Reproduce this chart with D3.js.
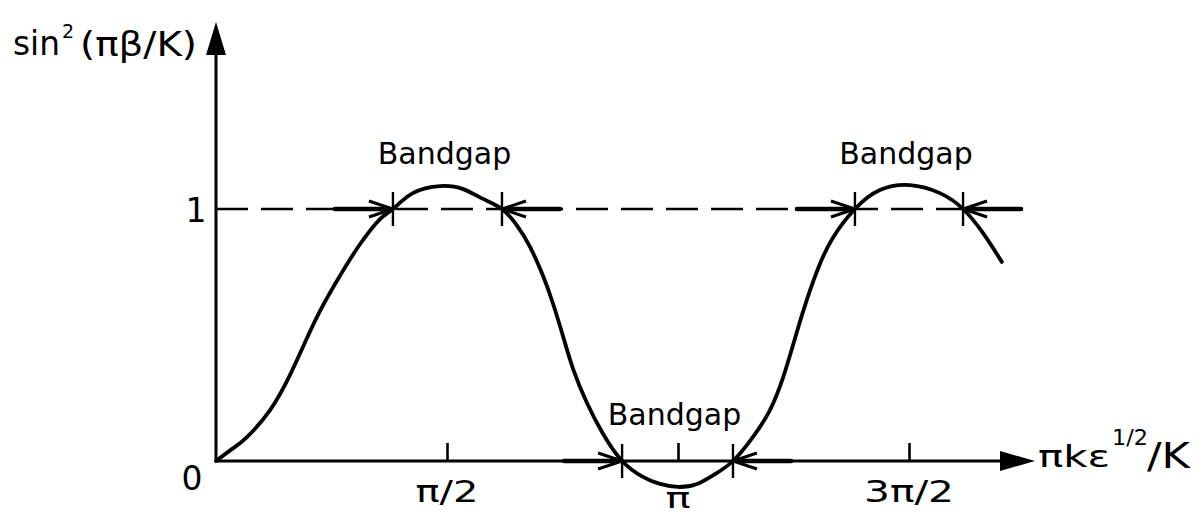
<!DOCTYPE html>
<html>
<head>
<meta charset="utf-8">
<script src="https://cdn.jsdelivr.net/npm/d3@7"></script>
<style>
  html, body { margin: 0; padding: 0; background: #fff; }
  svg { display: block; }
  text { font-family: "DejaVu Sans", sans-serif; fill: #000; }
</style>
</head>
<body>
<svg id="chart" width="1202" height="514"></svg>
<script>
// Abscissa in multiples of π, ordinate sin²(πβ/K)
const curveX = [0, 0.035, 0.067, 0.117, 0.160, 0.193, 0.225, 0.268, 0.312, 0.355, 0.383, 0.426,
  0.485, 0.535, 0.578, 0.619, 0.652, 0.680, 0.708, 0.729, 0.751, 0.773, 0.803, 0.838, 0.879,
  0.924, 0.961, 1.000, 1.041, 1.080, 1.119, 1.162, 1.199, 1.227, 1.249, 1.271, 1.301, 1.335,
  1.383, 1.437, 1.502, 1.567, 1.617, 1.660, 1.701];
const curveY = [0, 0.048, 0.095, 0.202, 0.341, 0.472, 0.595, 0.734, 0.861, 0.960, 1.0, 1.063,
  1.091, 1.079, 1.040, 1.0, 0.933, 0.849, 0.734, 0.627, 0.496, 0.365, 0.230, 0.107, 0.0,
  -0.063, -0.091, -0.103, -0.091, -0.052, 0.0, 0.095, 0.202, 0.329, 0.460, 0.595, 0.754, 0.885,
  1.0, 1.075, 1.095, 1.063, 1.0, 0.905, 0.790];

// Band gaps: start and end of each gap and the level it sits on
const gapStarts = [0.383, 0.879, 1.383];
const gapEnds = [0.619, 1.119, 1.617];
const gapLevels = [1, 0, 1];
const gapLabel = "Bandgap";

const xTickValues = [0.5, 1, 1.5];
const xTickLabels = ["π/2", "π", "3π/2"];
const yTickValues = [0, 1];
const yTickLabels = ["0", "1"];

const svg = d3.select("#chart");
const x = d3.scaleLinear().domain([0, 1.5]).range([216, 909]);
const y = d3.scaleLinear().domain([0, 1]).range([461, 209]);

const x0 = x(0), y0 = y(0);
const xEnd = 1035, yTop = 22;

// dashed reference line at 1
svg.append("line")
  .attr("x1", x0).attr("x2", 1022)
  .attr("y1", y(1)).attr("y2", y(1))
  .attr("stroke", "#000").attr("stroke-width", 2.4)
  .attr("stroke-dasharray", "32,13");

// axes
svg.append("line").attr("x1", x0).attr("x2", xEnd - 30).attr("y1", y0).attr("y2", y0)
  .attr("stroke", "#000").attr("stroke-width", 3);
svg.append("line").attr("x1", x0).attr("x2", x0).attr("y1", y0 + 1).attr("y2", yTop + 28)
  .attr("stroke", "#000").attr("stroke-width", 3);
svg.append("path")
  .attr("d", `M${xEnd},${y0} L${xEnd - 35},${y0 - 10} L${xEnd - 35},${y0 + 10} Z`)
  .attr("fill", "#000");
svg.append("path")
  .attr("d", `M${x0},${yTop} L${x0 - 10},${yTop + 33} L${x0 + 10},${yTop + 33} Z`)
  .attr("fill", "#000");

// x ticks (pointing up)
const xAxis = d3.axisBottom(x).tickValues(xTickValues).tickSize(-18).tickFormat("");
const gx = svg.append("g").attr("transform", `translate(0,${y0})`).call(xAxis);
gx.select(".domain").remove();
gx.selectAll(".tick line").attr("stroke", "#000").attr("stroke-width", 2.6);

// x tick labels
const tickLabelWidths = [63, 25, 90];
const tickLabelBase = [502, 508, 502];
const tickLabelSize = [31, 28, 31];
svg.selectAll("text.xtick").data(xTickValues).join("text")
  .attr("class", "xtick")
  .attr("x", (d, i) => x(d) - tickLabelWidths[i] / 2)
  .attr("y", (d, i) => tickLabelBase[i])
  .attr("font-size", (d, i) => tickLabelSize[i])
  .attr("textLength", (d, i) => tickLabelWidths[i])
  .attr("lengthAdjust", "spacingAndGlyphs")
  .text((d, i) => xTickLabels[i]);

// y tick labels
svg.selectAll("text.ytick").data(yTickValues).join("text")
  .attr("class", "ytick")
  .attr("x", d => d === 0 ? 192 : 196)
  .attr("y", d => d === 0 ? y(d) + 29 : y(d) + 13)
  .attr("text-anchor", "middle")
  .attr("font-size", 33)
  .text((d, i) => yTickLabels[i]);

// curve
const line = d3.line()
  .x((d, i) => x(curveX[i]))
  .y(d => y(d))
  .curve(d3.curveNatural);
svg.append("path")
  .datum(curveY)
  .attr("d", line)
  .attr("fill", "none")
  .attr("stroke", "#000")
  .attr("stroke-width", 3.8)
  .attr("stroke-linecap", "round");

// band gap markers: a short vertical bar at each edge and an arrow pointing at it
function edgeMarker(xv, level, dir) {
  const ex = x(xv), ey = y(level);
  const g = svg.append("g").attr("stroke", "#000").attr("fill", "none");
  g.append("line").attr("x1", ex).attr("x2", ex).attr("y1", ey - 17).attr("y2", ey + 17)
    .attr("stroke-width", 2.4);
  g.append("line").attr("x1", ex - dir * 58).attr("x2", ex - dir * 4).attr("y1", ey).attr("y2", ey)
    .attr("stroke-width", 4.5).attr("stroke-linecap", "round");
  g.append("path")
    .attr("d", `M${ex - dir * 24},${ey - 8} L${ex},${ey} L${ex - dir * 24},${ey + 8}`)
    .attr("stroke-width", 3).attr("stroke-linejoin", "miter");
}
gapStarts.forEach((s, i) => {
  edgeMarker(s, gapLevels[i], 1);
  edgeMarker(gapEnds[i], gapLevels[i], -1);
});

// band gap labels
svg.selectAll("text.gap").data(gapStarts).join("text")
  .attr("class", "gap")
  .attr("x", (d, i) => x((d + gapEnds[i]) / 2) - 3)
  .attr("y", (d, i) => y(gapLevels[i]) - (gapLevels[i] ? 45 : 36))
  .attr("text-anchor", "middle")
  .attr("font-size", 30)
  .text(gapLabel);

// y axis title: sin²(πβ/K)
const yTitle = svg.append("g");
yTitle.append("text").attr("x", 13).attr("y", 55).attr("font-size", 34)
  .attr("textLength", 47).attr("lengthAdjust", "spacingAndGlyphs").text("sin");
yTitle.append("text").attr("x", 62).attr("y", 38).attr("font-size", 19).text("2");
yTitle.append("text").attr("x", 80).attr("y", 56).attr("font-size", 33)
  .attr("textLength", 117).attr("lengthAdjust", "spacingAndGlyphs").text("(πβ/K)");

// x axis title: πkε^(1/2)/K
const xTitle = svg.append("g");
xTitle.append("text").attr("x", 1038).attr("y", 467).attr("font-size", 31)
  .attr("textLength", 72).attr("lengthAdjust", "spacingAndGlyphs").text("πkε");
xTitle.append("text").attr("x", 1112).attr("y", 445).attr("font-size", 22)
  .attr("textLength", 36).attr("lengthAdjust", "spacingAndGlyphs").text("1/2");
xTitle.append("text").attr("x", 1147).attr("y", 468).attr("font-size", 36)
  .attr("textLength", 43).attr("lengthAdjust", "spacingAndGlyphs").text("/K");
</script>
</body>
</html>
